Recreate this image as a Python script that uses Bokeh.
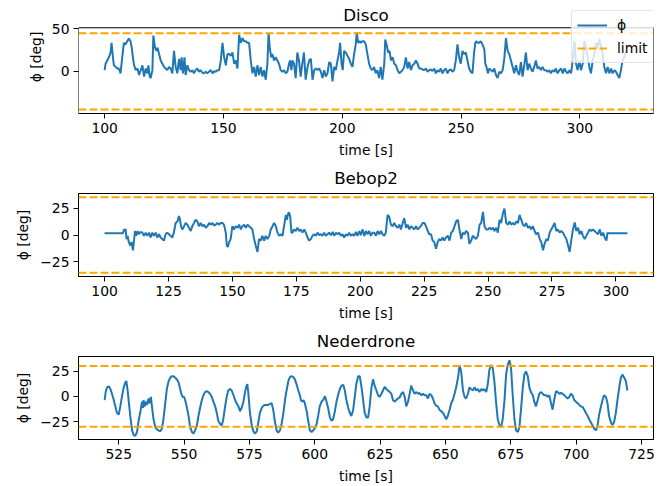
from bokeh.plotting import figure
from bokeh.layouts import column
from bokeh.models import (Span, Legend, LegendItem, FixedTicker, Range1d, BoxAnnotation,
                          Label, Title)
from bokeh.embed import file_html
from bokeh.resources import INLINE

# ---------------- data ----------------
titles = ["Disco", "Bebop2", "Nederdrone"]
limits = [45, 35, 30]
x_label = "time [s]"
y_label = "ϕ [deg]"
legend_labels = ["ϕ", "limit"]

disco_x_ticks = [100, 150, 200, 250, 300]
disco_y_ticks = [0, 50]
bebop_x_ticks = [100, 125, 150, 175, 200, 225, 250, 275, 300]
bebop_y_ticks = [-25, 0, 25]
neder_x_ticks = [525, 550, 575, 600, 625, 650, 675, 700, 725]
neder_y_ticks = [-25, 0, 25]

disco_t = [100.0, 100.4, 101.1, 101.8, 102.5, 102.9, 103.5, 103.9, 104.6, 105.3, 106.0, 106.7, 107.4, 108.1,
           108.8, 109.5, 110.2, 110.9, 111.4, 111.9, 112.4, 113.1, 113.8, 114.5, 115.2, 115.9, 116.6, 117.3,
           118.0, 118.4, 119.0, 119.4, 120.1, 120.5, 121.2, 121.8, 122.3, 122.9, 123.6, 124.3, 125.0, 125.7,
           126.4, 127.1, 127.8, 128.5, 129.2, 129.9, 130.6, 131.3, 132.0, 132.4, 133.0, 133.6, 134.1, 134.8,
           135.5, 136.2, 136.9, 137.6, 138.3, 139.0, 139.7, 140.4, 141.1, 141.8, 142.5, 143.2, 143.9, 144.7,
           145.4, 146.1, 146.8, 147.5, 148.2, 148.9, 149.6, 150.3, 151.0, 151.7, 152.4, 153.1, 153.8, 154.5,
           155.2, 155.9, 156.6, 157.3, 158.0, 158.7, 159.4, 160.1, 160.8, 161.5, 162.2, 162.9, 163.6, 164.3,
           165.0, 165.7, 166.4, 167.1, 167.8, 168.5, 169.0, 169.5, 170.1, 170.6, 171.3, 172.0, 172.7, 173.4,
           174.1, 174.8, 175.5, 176.2, 176.9, 177.6, 178.0, 178.6, 179.0, 179.7, 180.4, 181.1, 181.8, 182.5,
           183.2, 183.9, 184.6, 185.4, 186.1, 186.8, 187.5, 188.2, 188.9, 189.6, 190.3, 191.0, 191.7, 192.4,
           193.1, 193.8, 194.5, 195.2, 195.9, 196.6, 197.3, 198.0, 198.7, 199.1, 199.7, 200.2, 200.8, 201.5,
           202.2, 202.9, 203.6, 204.3, 205.0, 205.7, 206.1, 206.7, 207.3, 207.8, 208.5, 209.2, 209.9, 210.6,
           211.3, 212.0, 212.7, 213.4, 214.1, 214.8, 215.5, 216.2, 216.9, 217.7, 218.1, 218.8, 219.3, 219.9,
           220.5, 221.2, 221.9, 222.6, 223.3, 224.0, 224.7, 225.4, 226.1, 226.8, 227.5, 228.2, 228.9, 229.6,
           230.3, 231.0, 231.7, 232.4, 233.1, 233.8, 234.5, 235.2, 235.9, 236.6, 237.3, 238.0, 238.7, 239.4,
           240.1, 240.8, 241.5, 242.2, 242.9, 243.6, 244.3, 245.0, 245.7, 246.4, 247.1, 247.8, 248.5, 249.2,
           249.9, 250.6, 251.3, 252.0, 252.7, 253.4, 254.1, 254.8, 255.5, 256.0, 256.5, 256.9, 257.6, 258.3,
           259.0, 259.8, 260.2, 260.7, 261.3, 261.9, 262.6, 263.3, 264.0, 264.7, 265.4, 266.1, 266.8, 267.5,
           268.2, 268.9, 269.6, 270.3, 271.0, 271.7, 272.4, 273.1, 273.8, 274.5, 275.2, 275.9, 276.6, 277.3,
           278.0, 278.7, 279.4, 280.1, 280.8, 281.5, 282.2, 282.9, 283.6, 284.3, 285.0, 285.7, 286.4, 287.1,
           287.8, 288.5, 289.2, 289.9, 290.6, 291.4, 292.1, 292.8, 293.5, 294.2, 294.9, 295.6, 296.3, 297.0,
           297.7, 298.4, 299.1, 299.8, 300.5, 301.2, 301.9, 302.6, 303.3, 304.0, 304.7, 305.4, 306.1, 306.8,
           307.5, 308.2, 308.9, 309.6, 310.3, 311.0, 311.7, 312.4, 313.1, 313.8, 314.5, 315.2, 315.9, 316.6,
           317.3, 318.0, 318.7, 319.4]
disco_phi = [1.5, 9.1, 12.9, 16.6, 22.3, 33.7, 16.6, 7.2, 5.3, 3.4, 3.4, -2.3, 16.6, 33.7,
             31.8, 35.6, 38.6, 35.6, 28.0, 16.6, 7.2, 1.5, 3.4, -4.2, 1.5, 7.2, -6.1, 3.4,
             -2.3, 7.2, -6.1, -7.9, 1.5, 42.4, 28.0, 24.2, 28.0, 20.4, 12.9, 9.1, 5.3, 3.4,
             1.5, 5.3, 3.4, -2.3, 24.2, 5.3, -2.3, 14.8, 1.5, 16.6, -2.3, 16.6, -4.2, 7.2,
             1.5, -0.4, 1.5, -2.3, 1.5, 3.4, -0.4, 1.5, -1.5, -2.3, -0.4, -2.3, -0.4, 1.5,
             -2.3, 0.4, -0.4, 1.5, 1.5, 12.9, 33.7, 16.6, 7.2, 20.4, 20.4, 18.5, 22.3, 9.1,
             12.9, 3.4, 43.1, 33.7, 39.3, 35.6, 35.6, 33.7, 33.7, 12.9, -2.3, 5.3, -6.1, 7.2,
             -4.2, 5.3, -6.1, 1.5, -9.8, 9.1, 45.5, 28.0, 16.6, 20.4, 12.9, 16.6, 12.9, 9.1,
             1.5, -0.4, 1.5, -2.3, -0.4, 9.1, 12.9, 1.5, 12.9, 9.1, -7.9, 22.3, 12.9, -6.1,
             9.1, 22.3, -9.8, 5.3, 12.9, 14.8, -9.8, 1.5, 3.4, 1.5, 3.4, -0.4, -7.9, 1.5,
             -6.1, -2.3, 11.0, 9.1, -11.7, 5.3, 1.5, 12.9, 22.3, 33.7, 9.1, 1.5, 24.2, 22.3,
             18.5, 14.8, 9.1, 5.3, 20.4, 31.8, 46.0, 33.7, 35.6, 33.7, 35.6, 35.6, 31.8, 20.4,
             9.1, 3.4, 1.5, 5.3, -2.3, 1.5, -7.9, 5.3, -9.8, 9.1, 37.5, 29.9, 22.3, 24.2,
             12.9, 16.6, 9.1, 7.2, 1.5, -2.3, -0.4, 1.5, 5.3, 16.6, 3.4, 11.0, 1.5, 7.2,
             9.1, 12.9, 9.1, 3.4, 3.4, 2.3, 1.5, 3.4, -0.4, 1.5, 2.3, 0.4, 3.4, -2.3,
             1.5, -0.4, 3.4, -2.3, 1.5, 3.4, -2.3, 1.5, 2.3, -0.4, 1.5, 12.9, 31.8, 16.6,
             9.1, 24.2, 20.4, 22.3, 12.9, 3.4, -0.4, -2.3, 22.3, 33.7, 35.6, 33.7, 33.7, 35.6,
             31.8, 26.1, 9.1, 5.3, -2.3, 3.4, 1.5, -0.4, 3.4, -4.2, -7.9, -0.4, -2.3, 1.5,
             14.8, 39.3, 24.2, 20.4, 12.9, 5.3, -2.3, 7.2, -0.4, -4.2, 11.0, -6.1, 7.2, 22.3,
             1.5, 9.1, 3.4, -0.4, 5.3, 12.9, 3.4, 5.3, 1.5, 5.3, 1.5, 1.5, -0.4, 1.5,
             -2.3, 1.5, -0.4, 3.4, -2.3, 1.5, 3.4, -2.3, 3.4, -0.4, -2.3, 1.5, -2.3, 12.9,
             36.0, 9.1, 1.5, 12.9, 1.5, 9.1, 36.0, 28.0, 16.6, 5.3, -2.3, 12.9, 20.4, 33.7,
             28.0, 38.0, 29.9, 20.4, 5.3, -2.3, 5.3, -2.3, 3.4, -2.3, 1.5, -0.4, -4.2, -7.9,
             1.5, 12.9, 16.6, 24.2]

bebop_t = [100.0, 107.2, 107.6, 108.0, 108.2, 108.6, 109.0, 109.5, 110.0, 110.6, 111.1, 111.5, 111.9, 112.4,
           112.9, 113.4, 114.1, 114.8, 115.4, 116.1, 116.7, 117.4, 118.0, 118.7, 119.3, 120.0, 120.6, 121.3,
           121.9, 122.6, 123.2, 123.9, 124.5, 125.2, 125.8, 126.5, 127.1, 127.8, 128.5, 129.1, 129.5, 129.9,
           130.4, 131.1, 131.7, 132.4, 133.0, 133.7, 134.3, 135.0, 135.6, 136.3, 136.9, 137.6, 138.2, 138.9,
           139.6, 140.2, 140.9, 141.5, 142.2, 142.8, 143.5, 144.1, 144.8, 145.4, 146.1, 146.7, 147.4, 147.8,
           148.2, 148.7, 149.3, 150.0, 150.6, 151.3, 152.0, 152.6, 153.3, 153.9, 154.6, 155.2, 155.9, 156.5,
           157.2, 157.8, 158.5, 159.1, 159.8, 160.4, 161.1, 161.7, 162.4, 163.0, 163.7, 164.4, 165.0, 165.7,
           166.3, 167.0, 167.6, 168.3, 168.9, 169.6, 170.2, 170.9, 171.3, 171.8, 172.2, 172.6, 173.1, 173.5,
           174.1, 174.8, 175.4, 176.1, 176.7, 177.4, 178.1, 178.7, 179.4, 180.0, 180.7, 181.3, 182.0, 182.6,
           183.3, 183.9, 184.6, 185.2, 185.9, 186.5, 187.2, 187.8, 188.5, 189.2, 189.8, 190.5, 191.1, 191.8,
           192.4, 193.1, 193.7, 194.4, 195.0, 195.7, 196.3, 197.0, 197.6, 198.3, 198.9, 199.6, 200.2, 200.9,
           201.6, 202.2, 202.9, 203.5, 204.2, 204.8, 205.5, 206.1, 206.8, 207.4, 208.1, 208.7, 209.4, 210.0,
           210.7, 211.3, 212.0, 212.7, 213.3, 214.0, 214.6, 215.3, 215.9, 216.6, 217.2, 217.9, 218.5, 219.2,
           219.8, 220.5, 221.1, 221.8, 222.4, 223.1, 223.7, 224.4, 225.1, 225.7, 226.4, 227.0, 227.7, 228.3,
           229.0, 229.6, 230.3, 230.9, 231.6, 232.2, 232.9, 233.5, 234.3, 234.9, 235.6, 236.2, 236.9, 237.5,
           238.2, 238.8, 239.5, 240.1, 240.8, 241.4, 242.1, 242.7, 243.4, 244.0, 244.7, 245.3, 246.0, 246.7,
           247.3, 248.0, 248.6, 249.3, 249.9, 250.6, 251.2, 251.9, 252.5, 253.2, 253.8, 254.5, 255.1, 255.8,
           256.4, 257.1, 257.8, 258.4, 259.1, 259.7, 260.4, 261.0, 261.7, 262.3, 263.0, 263.6, 264.3, 264.9,
           265.6, 266.2, 266.9, 267.5, 268.2, 268.8, 269.5, 270.2, 270.8, 271.5, 272.1, 272.8, 273.4, 274.1,
           274.7, 275.4, 276.0, 276.7, 277.3, 278.0, 278.6, 279.3, 279.9, 280.6, 281.3, 281.9, 282.6, 283.2,
           283.9, 284.5, 285.2, 285.8, 286.5, 287.1, 287.8, 288.4, 289.1, 289.7, 290.4, 291.0, 291.7, 292.3,
           293.0, 293.7, 294.3, 295.0, 295.6, 296.3, 296.7, 296.9, 304.5]
bebop_phi = [1.6, 1.6, 5.2, 3.7, 5.8, -3.8, -0.8, -6.7, -9.7, -6.7, -14.2, -5.2, 3.7, -0.8,
             3.7, 0.7, 2.8, 2.2, -0.8, 2.2, -0.8, 2.2, -2.3, 2.2, -0.8, 2.2, -2.3, 0.7,
             -2.3, -3.8, -5.2, 0.7, 2.2, 0.7, -0.8, -2.3, 2.2, 11.1, 12.6, 17.7, 14.1, 8.2,
             5.2, 8.2, 11.1, 9.6, 6.7, 3.7, 8.2, 11.1, 14.1, 12.6, 8.2, 11.1, 8.2, 9.6,
             6.7, 8.2, 11.1, 9.6, 11.1, 8.8, 9.6, 11.1, 9.6, 11.1, 11.1, 9.6, 2.2, -9.7,
             -11.2, -6.7, -3.8, 8.2, 5.2, 8.2, 6.7, 9.6, 5.2, 8.2, 9.6, 6.7, 9.6, 8.2,
             6.7, 5.2, -3.8, -9.7, -15.7, -3.8, -5.2, -0.8, -5.2, -0.8, -3.8, -0.8, 5.2, 8.2,
             11.1, 8.2, 2.2, -0.8, 0.7, -0.8, 8.2, 18.6, 14.1, 20.1, 20.7, 17.1, 2.2, 2.2,
             5.2, 3.7, 6.7, 3.7, 5.2, 2.2, 5.2, 2.2, -2.3, -5.2, -3.8, -0.8, 0.7, -0.8,
             2.2, -0.2, 0.7, -0.8, 2.2, -0.8, 0.7, 2.2, -0.2, 2.8, -0.8, 2.2, 0.7, 2.2,
             -0.8, 0.7, -2.3, 0.7, -0.8, 2.2, -0.8, 0.7, -0.8, 2.8, -0.8, 3.7, -0.2, 5.2,
             -0.8, 3.7, 0.7, 3.7, -0.8, 2.2, 2.2, -0.8, 3.7, 0.7, 3.7, 0.7, -0.8, 2.2,
             18.6, 17.1, 9.6, 8.2, 11.1, 8.2, 6.7, 9.6, 5.2, 11.1, 15.6, 6.7, 9.6, 5.2,
             8.2, 6.7, 5.2, 8.2, 5.2, 6.7, 8.2, 11.1, 11.1, 8.2, 3.7, 0.7, 0.7, -5.2,
             -6.7, -12.7, -6.7, -3.8, -5.2, -2.3, -5.2, -2.3, -0.8, -5.2, 2.2, 3.7, 8.2, 12.6,
             14.1, 5.2, -3.8, 2.2, 0.7, 3.7, 2.2, -8.2, -5.2, -0.8, -2.3, -3.8, -0.8, 9.6,
             11.1, 21.5, 8.2, 5.2, 5.2, 6.7, 5.2, 6.7, 3.7, 6.7, 2.2, 14.1, 11.1, 20.1,
             24.5, 11.1, 9.6, 12.6, 9.6, 11.1, 9.6, 12.6, 11.1, 18.6, 14.1, 9.6, 8.2, 11.1,
             6.7, 8.2, 5.2, 8.2, 3.7, 0.7, 2.2, -3.8, -6.7, -14.2, -8.2, -3.8, -5.2, 2.2,
             5.2, 8.2, 11.1, 3.7, 5.2, 2.2, 3.7, 2.2, -0.8, -3.8, -9.7, -15.7, -3.8, 5.2,
             11.7, 3.7, 6.7, 0.7, 3.7, -0.8, -3.8, -0.8, 2.2, 5.2, 3.7, 5.2, 3.7, 2.2,
             0.7, 5.2, -0.8, 2.2, -2.3, -5.2, 2.2, 1.6, 1.6]

neder_t = [519.6, 520.0, 520.5, 521.2, 521.8, 522.4, 523.1, 523.7, 524.3, 525.0, 525.6, 526.2, 526.9, 527.5,
           527.9, 528.4, 528.9, 529.4, 530.1, 530.7, 531.3, 532.0, 532.6, 533.2, 533.9, 534.3, 534.5, 534.9,
           535.3, 535.8, 536.4, 536.8, 537.3, 537.7, 538.3, 539.0, 539.6, 540.2, 540.9, 541.5, 542.1, 542.8,
           543.4, 544.1, 544.7, 545.3, 546.0, 546.6, 547.2, 547.9, 548.5, 549.1, 549.5, 550.0, 550.4, 551.0,
           551.7, 552.3, 553.0, 553.6, 554.2, 554.9, 555.5, 556.1, 556.8, 557.4, 558.0, 558.7, 559.3, 559.9,
           560.6, 561.2, 561.9, 562.5, 563.1, 563.8, 564.4, 565.0, 565.7, 566.3, 566.9, 567.6, 568.2, 568.9,
           569.5, 570.1, 570.8, 571.4, 572.0, 572.7, 573.3, 573.9, 574.2, 574.6, 575.2, 575.9, 576.5, 577.1,
           577.8, 578.4, 579.0, 579.7, 580.3, 580.9, 581.6, 582.2, 582.9, 583.5, 584.1, 584.8, 585.4, 586.0,
           586.7, 587.3, 588.0, 588.6, 589.2, 589.9, 590.5, 591.1, 591.8, 592.4, 593.0, 593.7, 594.3, 594.7,
           595.2, 595.7, 596.2, 596.9, 597.5, 598.1, 598.8, 599.4, 600.0, 600.7, 601.3, 601.9, 602.6, 603.2,
           603.9, 604.5, 605.1, 605.8, 606.4, 607.0, 607.7, 608.3, 608.9, 609.6, 610.2, 610.9, 611.5, 612.1,
           612.8, 613.4, 614.0, 614.7, 615.3, 615.9, 616.6, 617.2, 617.9, 618.5, 619.1, 619.8, 620.4, 621.0,
           621.7, 622.3, 622.9, 623.6, 624.2, 624.8, 625.5, 626.1, 626.8, 627.4, 628.0, 628.7, 629.3, 629.9,
           630.6, 631.2, 631.8, 632.5, 633.1, 633.8, 634.4, 635.0, 635.7, 636.3, 636.9, 637.6, 638.2, 638.8,
           639.5, 640.1, 640.8, 641.4, 642.0, 642.7, 643.3, 643.9, 644.6, 645.2, 645.8, 646.5, 647.1, 647.7,
           648.4, 649.0, 649.7, 650.3, 650.9, 651.6, 652.2, 652.8, 653.5, 654.1, 654.8, 655.4, 656.0, 656.7,
           657.3, 657.9, 658.6, 659.2, 659.8, 660.5, 661.1, 661.8, 662.4, 663.0, 663.7, 664.3, 664.9, 665.6,
           666.2, 666.8, 667.5, 668.1, 668.7, 669.4, 670.0, 670.7, 671.3, 671.9, 672.6, 673.2, 673.8, 674.5,
           675.1, 675.7, 676.4, 677.0, 677.7, 678.3, 678.9, 679.6, 680.2, 680.8, 681.5, 682.1, 682.7, 683.4,
           684.0, 684.6, 685.3, 685.9, 686.6, 687.2, 687.8, 688.5, 689.1, 689.7, 690.4, 691.0, 691.6, 692.3,
           692.9, 693.6, 694.2, 694.8, 695.5, 696.1, 696.7, 697.4, 698.0, 698.6, 699.3, 699.9, 700.6, 701.2,
           701.8, 702.5, 703.1, 703.7, 704.4, 705.0, 705.6, 706.3, 706.9, 707.6, 708.2, 708.8, 709.5, 710.1,
           710.7, 711.4, 712.0, 712.6, 713.3, 713.9, 714.5, 715.2, 715.8, 716.5, 717.1, 717.7, 718.4, 719.0,
           719.6]
neder_phi = [-3.6, 4.2, 8.9, 9.9, 7.3, 2.6, -3.6, -9.9, -16.2, -17.8, -9.9, -0.5, 8.9, 13.6,
             15.2, 5.8, -6.8, -19.3, -33.5, -38.2, -38.8, -35.1, -24.1, -16.2, -5.2, -11.5, -3.6, -9.9,
             -5.2, -8.4, -2.1, -6.8, -0.5, -9.9, -22.5, -30.3, -32.5, -33.5, -34.4, -31.9, -22.5, -6.8,
             7.3, 15.2, 18.3, 19.9, 19.9, 18.3, 16.8, 13.6, 7.3, 1.1, -0.5, -0.5, -3.6, -9.9,
             -19.3, -30.3, -35.1, -36.6, -33.5, -28.8, -19.3, -11.5, -3.6, 1.1, 4.2, 5.1, 4.2, 2.6,
             -0.5, -5.2, -9.9, -16.2, -24.1, -27.2, -28.8, -22.5, -9.9, -0.5, 5.8, 7.3, 5.8, 1.1,
             -3.6, -6.8, -9.9, -14.6, -11.5, -5.2, 4.2, 10.5, 12.1, 2.6, -16.2, -28.8, -34.4, -36.6,
             -34.4, -25.6, -16.2, -11.5, -9.3, -8.4, -8.4, -8.4, -7.4, -6.8, -13.1, -25.6, -33.5, -35.7,
             -33.5, -27.2, -16.2, -3.6, 5.8, 15.2, 19.0, 19.9, 19.0, 16.8, 12.1, 5.8, 1.1, -3.6,
             -5.2, -3.6, -6.8, -14.6, -24.1, -33.5, -35.1, -33.5, -31.3, -27.2, -19.3, -9.9, -5.2, -3.6,
             0.1, -5.2, -11.5, -20.9, -24.1, -22.5, -14.6, -5.2, 1.1, 7.3, 10.5, 11.4, 5.8, -3.6,
             -11.5, -16.2, -19.3, -13.1, -0.5, 12.1, 19.9, 19.9, 8.9, -3.6, -16.2, -20.9, -20.9, -9.9,
             8.9, 16.8, 10.5, 5.8, 1.1, -0.5, 2.6, 5.8, 9.5, 7.3, 5.8, 4.2, 2.6, -3.6,
             -5.2, -3.6, -2.1, -1.1, 2.6, 4.2, -0.5, -9.9, -5.2, 2.6, 10.5, 5.8, 2.6, 4.2,
             2.6, 3.3, 1.1, 2.6, 1.1, 1.1, -2.1, 2.6, 1.1, -2.1, -6.8, -9.3, -9.9, -13.1,
             -14.6, -16.2, -19.3, -22.5, -19.3, -13.1, -6.8, -3.6, 2.6, 8.9, 18.3, 30.9, 24.6, 5.8,
             -0.5, -2.1, 2.6, 8.9, 7.3, 5.8, 8.9, 5.8, 7.3, 4.2, 7.3, 5.8, 7.3, 4.2,
             12.1, 26.2, 30.9, 27.8, 15.2, -6.8, -22.5, -28.8, -30.3, -22.5, -3.6, 21.5, 30.9, 35.6,
             27.8, 2.6, -22.5, -33.5, -35.1, -30.3, -13.1, 8.9, 21.5, 24.6, 19.9, 8.9, 4.2, 1.1,
             -5.2, -9.9, -3.6, 2.6, 4.2, 2.6, 1.1, 1.1, -0.5, 1.1, -6.8, -13.1, -3.6, 5.1,
             4.2, 2.6, 3.3, 2.6, 1.1, -0.5, -2.1, -0.5, 2.6, 1.1, -3.6, -5.2, -6.8, -8.4,
             -9.9, -10.5, -13.1, -16.2, -19.3, -22.5, -25.6, -28.8, -31.9, -33.5, -28.8, -17.8, -9.9, -3.6,
             1.1, -0.5, -6.8, -19.3, -25.6, -28.2, -25.6, -16.2, -3.6, 8.9, 18.3, 21.5, 18.3, 15.2,
             5.8]

# ---------------- style ----------------
BLUE = "#1f77b4"
ORANGE = "#ffa500"
FONT = "DejaVu Sans"
DASH = "8 3"


def style_axes(p):
    p.xgrid.visible = False
    p.ygrid.visible = False
    p.outline_line_color = "black"
    p.outline_line_width = 1
    for ax in (p.xaxis[0], p.yaxis[0]):
        ax.axis_line_color = "black"
        ax.axis_line_width = 1
        ax.major_tick_line_color = "black"
        ax.major_tick_in = 0
        ax.major_tick_out = 5
        ax.minor_tick_line_color = None
        ax.major_label_text_font = FONT
        ax.major_label_text_font_size = "13.9px"
        ax.major_label_text_color = "black"
        ax.major_label_standoff = 4
        ax.axis_label_text_font = FONT
        ax.axis_label_text_font_size = "13.9px"
        ax.axis_label_text_font_style = "normal"
        ax.axis_label_text_color = "black"
        ax.axis_label_standoff = 6
    p.title.align = "center"
    p.title.text_font = FONT
    p.title.text_font_size = "16.7px"
    p.title.text_font_style = "normal"
    p.title.text_color = "black"
    p.title.standoff = 11


def make_panel(title, t, phi, limit, xr, yr, xticks, yticks, height, top, bottom):
    p = figure(width=668, height=height, title=title,
               output_backend="svg", toolbar_location=None,
               x_range=Range1d(*xr), y_range=Range1d(*yr),
               min_border_left=78, min_border_right=15,
               min_border_top=top, min_border_bottom=bottom)
    style_axes(p)
    p.xaxis[0].ticker = FixedTicker(ticks=xticks)
    p.yaxis[0].ticker = FixedTicker(ticks=yticks)
    p.xaxis[0].axis_label = x_label
    p.yaxis[0].axis_label = y_label
    p.line(t, phi, line_color=BLUE, line_width=2)
    for loc in (limit, -limit):
        p.add_layout(Span(location=loc, dimension="width", line_color=ORANGE,
                          line_dash=DASH, line_width=2))
    return p


# ---- first panel: frame extended to the top so that the legend is not clipped;
# the axes box is drawn as a box annotation over the data area.
FRAME_H1 = 116          # total frame height in px (box 88 px + 28 px headroom)
BOX_H1 = 88
y_lo1, y_hi1 = -49.6, 51.4
px_per_unit = BOX_H1 / (y_hi1 - y_lo1)
y_top1 = y_hi1 + (FRAME_H1 - BOX_H1) / px_per_unit
x_lo1, x_hi1 = 89.0, 331.0

p1 = figure(width=668, height=160, output_backend="svg", toolbar_location=None,
            x_range=Range1d(x_lo1, x_hi1), y_range=Range1d(y_lo1, y_top1),
            min_border_left=78, min_border_right=15, min_border_top=0, min_border_bottom=44)
style_axes(p1)
p1.outline_line_color = None
p1.yaxis[0].axis_line_color = None
p1.xaxis[0].ticker = FixedTicker(ticks=disco_x_ticks)
p1.yaxis[0].ticker = FixedTicker(ticks=disco_y_ticks)
p1.xaxis[0].axis_label = x_label
p1.yaxis[0].axis_label = None
p1.add_layout(Title(text=y_label, align="center", offset=-14, text_font=FONT,
                    text_font_size="13.9px", text_font_style="normal", text_color="black",
                    standoff=10), "left")
r_phi = p1.line(disco_t, disco_phi, line_color=BLUE, line_width=2)
lim_renderers = [p1.line(x=[x_lo1, x_hi1], y=[loc, loc], line_color=ORANGE,
                         line_dash=DASH, line_width=2)
                 for loc in (limits[0], -limits[0])]
p1.add_layout(BoxAnnotation(left=x_lo1, right=x_hi1, bottom=y_lo1, top=y_hi1,
                            fill_alpha=0, line_color="black", line_alpha=1.0, line_width=1))
p1.add_layout(Label(x=(x_lo1 + x_hi1) / 2, y=y_hi1 + 13 / px_per_unit, text=titles[0],
                    text_align="center", text_baseline="alphabetic", text_font=FONT,
                    text_font_size="16.7px", text_color="black"))
leg = Legend(items=[LegendItem(label=legend_labels[0], renderers=[r_phi]),
                    LegendItem(label=legend_labels[1], renderers=[lim_renderers[0]])],
             location=(493, 50))
leg.border_line_color = "#cccccc"
leg.border_line_width = 1
leg.background_fill_color = "white"
leg.background_fill_alpha = 0.8
leg.label_text_font = FONT
leg.label_text_font_size = "13.9px"
leg.label_text_color = "black"
leg.glyph_width = 30
leg.glyph_height = 18
leg.label_height = 18
leg.label_standoff = 10
leg.spacing = 5
leg.padding = 5
leg.margin = 0
if "border_radius" in Legend.properties():
    leg.border_radius = 3
p1.add_layout(leg)

p2 = make_panel(titles[1], bebop_t, bebop_phi, limits[1], (89.8, 314.7), (-38.5, 38.5),
                bebop_x_ticks, bebop_y_ticks, 163, 31, 44)
p3 = make_panel(titles[2], neder_t, neder_phi, limits[2], (509.6, 729.6), (-42.5, 39.3),
                neder_x_ticks, neder_y_ticks, 163, 33, 42)

layout = column(p1, p2, p3)
open("out.html", "w", encoding="utf-8").write(file_html(layout, INLINE))
